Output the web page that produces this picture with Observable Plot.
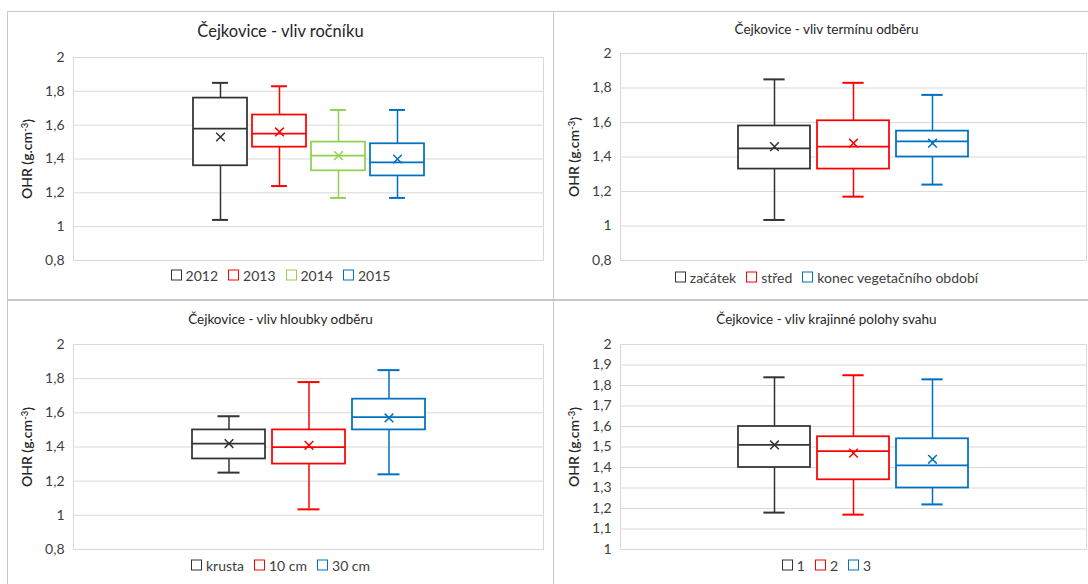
<!DOCTYPE html>
<html>
<head>
<meta charset="utf-8">
<script src="https://cdn.jsdelivr.net/npm/d3@7"></script>
<script src="https://cdn.jsdelivr.net/npm/@observablehq/plot@0.6"></script>
<style>
  html, body { margin: 0; padding: 0; background: #fff; width: 1088px; height: 584px; overflow: hidden; font-family: Lato, "Open Sans", sans-serif; }
  .panel { position: absolute; width: 547px; height: 289px; border: 1px solid #c9c9c9; box-sizing: border-box; background: #fff; }
  .panel svg { position: absolute; left: 0; top: 0; }
  .title { position: absolute; left: 0; right: 0; text-align: center; color: #262626; white-space: nowrap; transform: translateY(-50%); }
  .legend { position: absolute; left: 0; right: 0; text-align: center; font-size: 14px; color: #404040; white-space: nowrap; transform: translateY(-50%); }
  .legend .item { display: inline-flex; align-items: center; margin: 0 5px; }
  .legend .sw { display: inline-block; width: 9px; height: 9px; border: 1.5px solid; margin-right: 4px; background: #fff; }
</style>
</head>
<body>
<script>
// Soil bulk density (OHR) at Čejkovice: box plots by year, sampling term, depth and slope position.

// Effect of year
const yearNames = ["2012", "2013", "2014", "2015"];
const yearColors = ["#333333", "#ff0000", "#92d050", "#0070c0"];
const yearMin    = [1.04, 1.24, 1.17, 1.17];
const yearQ1     = [1.36, 1.47, 1.33, 1.30];
const yearMedian = [1.58, 1.55, 1.42, 1.38];
const yearQ3     = [1.76, 1.66, 1.50, 1.49];
const yearMax    = [1.85, 1.83, 1.69, 1.69];
const yearMean   = [1.53, 1.56, 1.42, 1.40];

// Effect of sampling term
const termNames = ["začátek", "střed", "konec vegetačního období"];
const termColors = ["#333333", "#ff0000", "#0070c0"];
const termMin    = [1.035, 1.17, 1.24];
const termQ1     = [1.33, 1.33, 1.40];
const termMedian = [1.45, 1.46, 1.49];
const termQ3     = [1.58, 1.61, 1.55];
const termMax    = [1.85, 1.83, 1.76];
const termMean   = [1.46, 1.48, 1.48];

// Effect of sampling depth
const depthNames = ["krusta", "10 cm", "30 cm"];
const depthColors = ["#333333", "#ff0000", "#0070c0"];
const depthMin    = [1.25, 1.035, 1.24];
const depthQ1     = [1.33, 1.30, 1.50];
const depthMedian = [1.42, 1.40, 1.575];
const depthQ3     = [1.50, 1.50, 1.68];
const depthMax    = [1.58, 1.78, 1.85];
const depthMean   = [1.42, 1.41, 1.57];

// Effect of landscape slope position
const slopeNames = ["1", "2", "3"];
const slopeColors = ["#333333", "#ff0000", "#0070c0"];
const slopeMin    = [1.18, 1.17, 1.22];
const slopeQ1     = [1.40, 1.34, 1.30];
const slopeMedian = [1.51, 1.48, 1.41];
const slopeQ3     = [1.60, 1.55, 1.54];
const slopeMax    = [1.84, 1.85, 1.83];
const slopeMean   = [1.51, 1.47, 1.44];

// Axis ticks
const ticksWide = [0.8, 1, 1.2, 1.4, 1.6, 1.8, 2];
const ticksFine = [1, 1.1, 1.2, 1.3, 1.4, 1.5, 1.6, 1.7, 1.8, 1.9, 2];

const fmt = d => String(d).replace(".", ",");

function panel(o) {
  const W = 545, H = 287;
  const div = document.createElement("div");
  div.className = "panel";
  div.style.left = o.left + "px";
  div.style.top = o.top + "px";
  document.body.appendChild(div);

  const rows = o.names.map((name, i) => ({
    name, color: o.colors[i],
    min: o.min[i], q1: o.q1[i], median: o.median[i], q3: o.q3[i], max: o.max[i], mean: o.mean[i]
  }));

  const pi = 0.09;
  const innerW = W - o.m.left - o.m.right;
  const step = innerW / (o.names.length - pi + 2 * o.po);
  const bw = step * (1 - pi);
  const capInset = bw * 0.35;

  const svg = Plot.plot({
    width: W, height: H,
    marginTop: o.m.top, marginRight: o.m.right, marginBottom: o.m.bottom, marginLeft: o.m.left,
    style: { fontFamily: "Lato, 'Open Sans', sans-serif", fontSize: "14px", color: "#404040", background: "transparent", overflow: "visible" },
    x: { domain: o.names, paddingInner: pi, paddingOuter: o.po, axis: null },
    y: { domain: o.domain, ticks: o.ticks, tickFormat: fmt, tickSize: 0, tickPadding: 9,
         label: "OHR (g.cm-3)", labelAnchor: "center", labelOffset: 51 },
    marks: [
      Plot.ruleY(o.ticks, { stroke: "#d9d9d9", strokeWidth: 1 }),
      Plot.frame({ stroke: "#d9d9d9" }),
      Plot.ruleX(rows, { x: "name", y1: "min", y2: "max", stroke: "color", strokeWidth: 1.5 }),
      Plot.tickY(rows, { x: "name", y: "max", stroke: "color", strokeWidth: 2, insetLeft: capInset, insetRight: capInset }),
      Plot.tickY(rows, { x: "name", y: "min", stroke: "color", strokeWidth: 2, insetLeft: capInset, insetRight: capInset }),
      Plot.barY(rows, { x: "name", y1: "q1", y2: "q3", fill: "white", stroke: "color", strokeWidth: 1.75 }),
      Plot.tickY(rows, { x: "name", y: "median", stroke: "color", strokeWidth: 1.75 }),
      Plot.dot(rows, { x: "name", y: "mean", symbol: "times", r: 4, stroke: "color", strokeWidth: 1.5 })
    ]
  });
  div.appendChild(svg);

  // axis title with superscript exponent
  const lab = svg.querySelector('[aria-label="y-axis label"] text') ||
              [...svg.querySelectorAll("text")].find(t => t.textContent.startsWith("OHR"));
  if (lab) {
    lab.textContent = "";
    lab.setAttribute("font-weight", "600");
    lab.setAttribute("font-size", "14px");
    lab.setAttribute("fill", "#262626");
    const ns = "http://www.w3.org/2000/svg";
    const a = document.createElementNS(ns, "tspan"); a.textContent = "OHR (g.cm";
    const b = document.createElementNS(ns, "tspan"); b.textContent = "-3"; b.setAttribute("font-size", "9.5px"); b.setAttribute("dy", "-0.5em");
    const c = document.createElementNS(ns, "tspan"); c.textContent = ")"; c.setAttribute("dy", "0.35em");
    lab.append(a, b, c);
  }

  const t = document.createElement("div");
  t.className = "title";
  t.style.top = o.titleY + "px";
  t.style.fontSize = o.titleSize + "px";
  t.textContent = o.title;
  div.appendChild(t);

  const lg = document.createElement("div");
  lg.className = "legend";
  lg.style.top = o.legendY + "px";
  rows.forEach(r => {
    const it = document.createElement("span"); it.className = "item";
    const sw = document.createElement("span"); sw.className = "sw"; sw.style.borderColor = r.color;
    const tx = document.createElement("span"); tx.textContent = r.name;
    it.append(sw, tx); lg.appendChild(it);
  });
  div.appendChild(lg);
}

panel({ left: 7, top: 11, title: "Čejkovice - vliv ročníku", titleSize: 16.5, titleY: 19, legendY: 263,
  names: yearNames, colors: yearColors, min: yearMin, q1: yearQ1, median: yearMedian, q3: yearQ3, max: yearMax, mean: yearMean,
  domain: [0.8, 2], ticks: ticksWide, po: 1.97, m: { top: 45, right: 10, bottom: 39, left: 65 } });

panel({ left: 553, top: 11, title: "Čejkovice - vliv termínu odběru", titleSize: 13.5, titleY: 17, legendY: 265,
  names: termNames, colors: termColors, min: termMin, q1: termQ1, median: termMedian, q3: termQ3, max: termMax, mean: termMean,
  domain: [0.8, 2], ticks: ticksWide, po: 1.47, m: { top: 41, right: 13, bottom: 39, left: 66 } });

panel({ left: 7, top: 300, title: "Čejkovice - vliv hloubky odběru", titleSize: 13.5, titleY: 18, legendY: 264,
  names: depthNames, colors: depthColors, min: depthMin, q1: depthQ1, median: depthMedian, q3: depthQ3, max: depthMax, mean: depthMean,
  domain: [0.8, 2], ticks: ticksWide, po: 1.48, m: { top: 43, right: 10, bottom: 39, left: 65 } });

panel({ left: 553, top: 300, title: "Čejkovice - vliv krajinné polohy svahu", titleSize: 13.5, titleY: 18, legendY: 264,
  names: slopeNames, colors: slopeColors, min: slopeMin, q1: slopeQ1, median: slopeMedian, q3: slopeQ3, max: slopeMax, mean: slopeMean,
  domain: [1, 2], ticks: ticksFine, po: 1.47, m: { top: 43, right: 13, bottom: 39, left: 66 } });
</script>
</body>
</html>
